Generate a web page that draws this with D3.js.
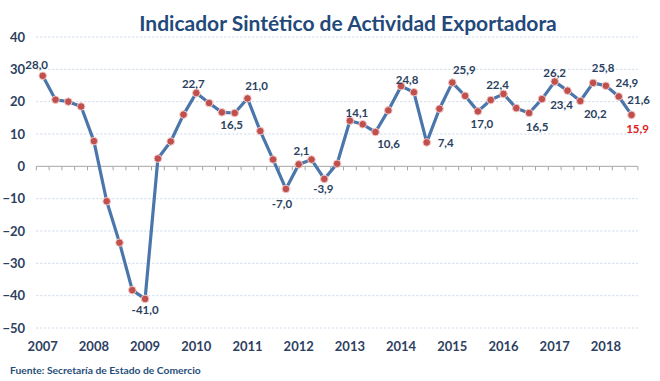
<!DOCTYPE html>
<html><head><meta charset="utf-8">
<script src="https://cdn.jsdelivr.net/npm/d3@7"></script>
<style>
html,body{margin:0;padding:0;background:#fff;}
svg{display:block;font-family:Lato,"Open Sans",sans-serif;}
</style></head>
<body><svg id="c" width="660" height="381"></svg>
<script>
const years = ["2007","2008","2009","2010","2011","2012","2013","2014","2015","2016","2017","2018"];
const quarters = ["T1","T2","T3","T4"];
const values = [
  28.0, 20.6, 20.0, 18.5,
  7.8, -10.8, -23.6, -38.3,
  -41.0, 2.4, 7.7, 16.0,
  22.7, 19.6, 16.7, 16.5,
  21.0, 10.9, 2.1, -7.0,
  0.6, 2.1, -3.9, 0.8,
  14.1, 13.0, 10.6, 17.3,
  24.8, 22.9, 7.4, 17.8,
  25.9, 21.8, 17.0, 20.5,
  22.4, 18.0, 16.5, 20.8,
  26.2, 23.4, 20.2, 25.8,
  24.9, 21.6, 15.9
];
const yTicks = [40,30,20,10,0,-10,-20,-30,-40,-50];
const labeledIdx = [0,8,12,15,16,19,21,22,24,26,28,30,32,34,36,38,40,41,42,43,44,45,46];
const labelOffsets = [[-6,-11],[0,11],[-3,-9],[-3,12],[9,-13],[-4,15],[-10,-9],[-1,10],[7,-8],[13,11],[6,-7],[19,0],[12,-13],[4,12],[-6,-9],[8,14],[0,-9],[-6,14],[15,12],[10,-15],[21,-3],[20,3],[6,14]];
const title = "Indicador Sintético de Actividad Exportadora";
const source = "Fuente: Secretaría de Estado de Comercio";

const cats = [];
years.forEach(y => quarters.forEach(q => cats.push(y + "-" + q)));
const data = values.map((v, i) => ({cat: cats[i], v, i}));

const svg = d3.select("#c");
const x = d3.scaleBand().domain(data.map(d => d.cat)).range([36.3, 637.9]).paddingInner(0).paddingOuter(0);
const xc = c => x(c) + x.bandwidth() / 2;
const y = d3.scaleLinear().domain([-50, 40]).range([328, 37]);

// title
svg.append("text").attr("x", 348).attr("y", 22).attr("text-anchor", "middle")
  .attr("dominant-baseline", "central")
  .style("font-size", "21px").style("font-weight", "bold").style("fill", "#23497a")
  .text(title);

// gridlines
svg.append("g").selectAll("line").data(yTicks.filter(t => t !== 0)).join("line")
  .attr("x1", 36.3).attr("x2", 637.9)
  .attr("y1", d => y(d)).attr("y2", d => y(d))
  .attr("stroke", "#c9d6e8").attr("stroke-width", 1).attr("stroke-dasharray", "2,2");

// y axis labels
const yAxis = d3.axisLeft(y).tickValues(yTicks).tickSize(0).tickPadding(0);
const gy = svg.append("g").attr("transform", "translate(25,0)").call(yAxis);
gy.select(".domain").remove();
gy.selectAll("text").style("font-size", "13px").style("font-weight", "bold")
  .style("fill", "#2e3f5f").style("font-family", "Lato, sans-serif");

// x axis at zero with ticks at band boundaries
const gx = svg.append("g").attr("transform", `translate(0,${y(0)})`);
gx.append("line").attr("x1", 36.3).attr("x2", 637.9).attr("stroke", "#a6a6a6").attr("stroke-width", 1);
const bounds = data.map(d => x(d.cat)).concat([x(data[data.length - 1].cat) + x.bandwidth()]);
gx.selectAll("line.tk").data(bounds).join("line").attr("class", "tk")
  .attr("x1", d => d).attr("x2", d => d).attr("y1", 0).attr("y2", 4)
  .attr("stroke", "#a6a6a6").attr("stroke-width", 1);

// year labels at first quarter
svg.append("g").selectAll("text").data(years).join("text")
  .attr("x", d => xc(d + "-T1")).attr("y", 346)
  .attr("text-anchor", "middle").attr("dominant-baseline", "central")
  .style("font-size", "13px").style("font-weight", "bold").style("fill", "#2e3f5f")
  .text(d => d);

// line
const line = d3.line().x(d => xc(d.cat)).y(d => y(d.v));
svg.append("path").datum(data).attr("d", line)
  .attr("fill", "none").attr("stroke", "#4a76ab").attr("stroke-width", 3.2)
  .attr("stroke-linejoin", "round");

// markers
svg.append("g").selectAll("circle").data(data).join("circle")
  .attr("cx", d => xc(d.cat)).attr("cy", d => y(d.v)).attr("r", 3.8)
  .attr("fill", "#c0504d").attr("stroke", "#f2c9c7").attr("stroke-width", 1);

// data labels
const fmt = v => d3.format(".1f")(v).replace(".", ",").replace("−", "-");
svg.append("g").selectAll("text").data(labeledIdx).join("text")
  .attr("x", (d, k) => xc(data[d].cat) + labelOffsets[k][0])
  .attr("y", (d, k) => y(data[d].v) + labelOffsets[k][1])
  .attr("text-anchor", "middle").attr("dominant-baseline", "central")
  .style("font-size", "11.5px").style("font-weight", "bold")
  .style("fill", d => d === data.length - 1 ? "#e02020" : "#2b3f60")
  .text(d => fmt(data[d].v));

// source
svg.append("text").attr("x", 10).attr("y", 370).attr("dominant-baseline", "central")
  .style("font-size", "10.3px").style("font-weight", "bold").style("fill", "#1f4e79")
  .text(source);
</script></body></html>
